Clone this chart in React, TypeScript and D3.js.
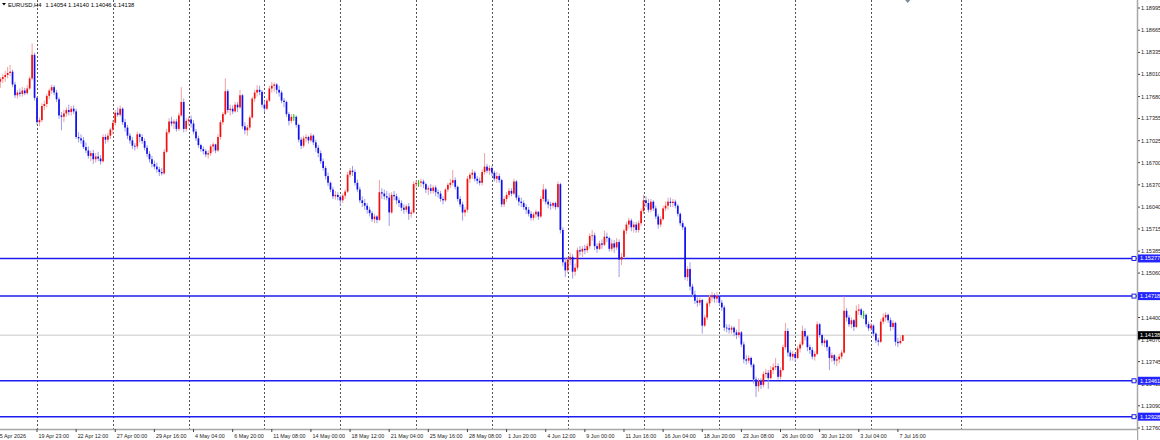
import * as d3 from "d3";

// EURUSD H4, [high, low, close] per bar; each bar opens at the previous close.
// index 0 of the array is bar -15 (15 Apr), bar 0 is 19 Apr 23:00.
const firstBar = -15;
const firstOpen = 1.179;
const candles: [number, number, number][] = [
    [1.1797, 1.1781, 1.1794], [1.1801, 1.1788, 1.1797], [1.1806, 1.179, 1.18], [1.1812, 1.1795, 1.1803],
    [1.1815, 1.1798, 1.1805], [1.1808, 1.1782, 1.1786], [1.179, 1.1766, 1.177], [1.1778, 1.1765, 1.1774],
    [1.178, 1.1768, 1.1772], [1.1782, 1.1768, 1.1777], [1.1781, 1.177, 1.1773], [1.1785, 1.1771, 1.178],
    [1.1798, 1.1778, 1.1795], [1.1847, 1.1792, 1.183], [1.1833, 1.1762, 1.1766],
    // 19 Apr
    [1.1768, 1.1726, 1.173], [1.1737, 1.1724, 1.1733], [1.1758, 1.173, 1.1754], [1.1762, 1.1748, 1.1757],
    [1.1772, 1.1752, 1.1769], [1.178, 1.1764, 1.1777], [1.1786, 1.1772, 1.1782], [1.1785, 1.177, 1.1774],
    [1.1778, 1.176, 1.1764], [1.1767, 1.1735, 1.174], [1.1745, 1.1718, 1.1738], [1.1748, 1.173, 1.1743],
    [1.1752, 1.1738, 1.1748], [1.1756, 1.174, 1.1745], [1.1754, 1.174, 1.175], [1.1755, 1.1742, 1.1746],
    [1.175, 1.1705, 1.1708], [1.1715, 1.17, 1.1706], [1.1712, 1.1698, 1.1703], [1.1708, 1.169, 1.1693],
    [1.17, 1.1684, 1.1688], [1.1694, 1.1676, 1.168], [1.1688, 1.1672, 1.1684], [1.1689, 1.1668, 1.1675],
    [1.1684, 1.167, 1.1679], [1.1686, 1.1672, 1.1676], [1.1681, 1.1667, 1.1672], [1.1712, 1.167, 1.1708],
    [1.1712, 1.1698, 1.1704], [1.1714, 1.17, 1.171], [1.1722, 1.1705, 1.1719],
    // 26 Apr
    [1.1733, 1.1712, 1.1729], [1.1748, 1.1725, 1.1744], [1.1752, 1.1738, 1.1741], [1.1755, 1.1738, 1.175],
    [1.1752, 1.1726, 1.173], [1.1735, 1.1716, 1.1722], [1.1726, 1.1705, 1.171], [1.1714, 1.1698, 1.1703],
    [1.1708, 1.169, 1.1695], [1.1699, 1.1688, 1.1694], [1.1716, 1.169, 1.1712], [1.1714, 1.17, 1.1708],
    [1.1712, 1.1698, 1.1702], [1.1706, 1.1688, 1.1692], [1.1696, 1.1678, 1.1683], [1.1687, 1.167, 1.1675],
    [1.168, 1.1663, 1.1668], [1.1673, 1.166, 1.1664], [1.167, 1.1655, 1.166], [1.1664, 1.165, 1.1656],
    [1.1662, 1.1651, 1.1654], [1.169, 1.1652, 1.1686], [1.172, 1.1684, 1.1715], [1.1736, 1.1712, 1.1731],
    [1.1738, 1.1724, 1.1728], [1.1734, 1.172, 1.1731], [1.1735, 1.1716, 1.172], [1.1744, 1.1717, 1.174],
    [1.1782, 1.1738, 1.176], [1.1765, 1.1715, 1.172], [1.1736, 1.1716, 1.1732],
    // 3 May
    [1.1738, 1.1725, 1.1734], [1.174, 1.1722, 1.1728], [1.1733, 1.1712, 1.1716], [1.172, 1.1702, 1.1706],
    [1.171, 1.1692, 1.1696], [1.1698, 1.1686, 1.169], [1.1694, 1.1682, 1.1687], [1.169, 1.1678, 1.1682],
    [1.1688, 1.1676, 1.1684], [1.1697, 1.168, 1.1694], [1.17, 1.1686, 1.1697], [1.1698, 1.1684, 1.1688],
    [1.1712, 1.1686, 1.1708], [1.1733, 1.1704, 1.173], [1.1745, 1.1726, 1.1742], [1.1795, 1.174, 1.1776],
    [1.1779, 1.1744, 1.1748], [1.1756, 1.174, 1.175], [1.1755, 1.1742, 1.1746], [1.176, 1.1744, 1.1756],
    [1.176, 1.1745, 1.1752], [1.1778, 1.175, 1.177], [1.1772, 1.172, 1.1724], [1.173, 1.1712, 1.1718],
    [1.1726, 1.171, 1.1722], [1.174, 1.1718, 1.1737], [1.1768, 1.1735, 1.1765], [1.1778, 1.176, 1.1774],
    [1.1785, 1.1768, 1.1778], [1.1784, 1.177, 1.1775], [1.1778, 1.1752, 1.1756],
    // 10 May
    [1.1762, 1.1745, 1.175], [1.1765, 1.1748, 1.1762], [1.1784, 1.176, 1.178], [1.179, 1.1774, 1.1784],
    [1.1789, 1.1775, 1.1786], [1.1788, 1.1772, 1.1778], [1.1784, 1.1768, 1.1774], [1.1777, 1.1758, 1.1762],
    [1.1766, 1.1752, 1.176], [1.1762, 1.1738, 1.1742], [1.1745, 1.1725, 1.1732], [1.1742, 1.1728, 1.1738],
    [1.1742, 1.1732, 1.1738], [1.174, 1.1722, 1.1726], [1.1728, 1.17, 1.1704], [1.1708, 1.169, 1.1695],
    [1.171, 1.1692, 1.1706], [1.1712, 1.17, 1.1708], [1.171, 1.1698, 1.1703], [1.1714, 1.17, 1.171],
    [1.1712, 1.1696, 1.17], [1.1704, 1.1686, 1.1692], [1.1696, 1.1678, 1.1684], [1.1688, 1.1668, 1.1672],
    [1.1676, 1.1658, 1.1662], [1.1665, 1.1645, 1.165], [1.1655, 1.1635, 1.164], [1.1642, 1.1626, 1.163],
    [1.1634, 1.1616, 1.162], [1.1628, 1.1615, 1.1622], [1.1626, 1.1614, 1.1619],
    // 17 May
    [1.1622, 1.1606, 1.1614], [1.1624, 1.161, 1.1621], [1.163, 1.1616, 1.1627], [1.1656, 1.1625, 1.1652],
    [1.1662, 1.1648, 1.1658], [1.1665, 1.165, 1.1656], [1.166, 1.1636, 1.164], [1.1645, 1.1626, 1.163],
    [1.1634, 1.161, 1.1614], [1.162, 1.1604, 1.161], [1.1616, 1.16, 1.1606], [1.161, 1.1594, 1.16],
    [1.1604, 1.159, 1.1595], [1.1598, 1.1582, 1.1586], [1.1594, 1.158, 1.159], [1.1592, 1.158, 1.1585],
    [1.1644, 1.1583, 1.1626], [1.1632, 1.1616, 1.1624], [1.163, 1.1615, 1.162], [1.1628, 1.1614, 1.1618],
    [1.1625, 1.1576, 1.1596], [1.1626, 1.1594, 1.1622], [1.1628, 1.1614, 1.162], [1.1624, 1.1608, 1.1614],
    [1.1618, 1.1604, 1.161], [1.1614, 1.1598, 1.1603], [1.1608, 1.1594, 1.16], [1.1608, 1.1596, 1.1605],
    [1.161, 1.1585, 1.1594], [1.16, 1.1588, 1.1596], [1.1642, 1.1594, 1.1638],
    // 24 May
    [1.1644, 1.1632, 1.164], [1.1644, 1.1634, 1.164], [1.1646, 1.1634, 1.1642], [1.1645, 1.1632, 1.1638],
    [1.164, 1.1625, 1.163], [1.1636, 1.1622, 1.1632], [1.1638, 1.1624, 1.1628], [1.1636, 1.1624, 1.1633],
    [1.1636, 1.162, 1.1626], [1.163, 1.1618, 1.1624], [1.1628, 1.1612, 1.1616], [1.162, 1.1608, 1.1614],
    [1.1632, 1.1612, 1.163], [1.164, 1.1626, 1.1637], [1.1646, 1.1632, 1.164], [1.1659, 1.1636, 1.1644],
    [1.1648, 1.163, 1.1634], [1.1636, 1.1612, 1.1616], [1.162, 1.1604, 1.1608], [1.1612, 1.1584, 1.1596],
    [1.1604, 1.159, 1.16], [1.165, 1.1596, 1.1646], [1.1655, 1.164, 1.1652], [1.166, 1.1646, 1.1655],
    [1.1658, 1.1642, 1.1646], [1.165, 1.1638, 1.1643], [1.1648, 1.1636, 1.164], [1.166, 1.1636, 1.1656],
    [1.1684, 1.1652, 1.1664], [1.1668, 1.1654, 1.1658], [1.1666, 1.1652, 1.1662],
    // 31 May
    [1.1665, 1.165, 1.1655], [1.1658, 1.1642, 1.1646], [1.1656, 1.164, 1.165], [1.1654, 1.164, 1.1644],
    [1.1646, 1.1604, 1.1608], [1.162, 1.1604, 1.1616], [1.1626, 1.1612, 1.1622], [1.1632, 1.1618, 1.1628],
    [1.1632, 1.162, 1.1624], [1.1646, 1.1622, 1.1642], [1.1644, 1.1614, 1.1618], [1.1622, 1.1606, 1.1612],
    [1.1618, 1.1604, 1.161], [1.1614, 1.16, 1.1604], [1.1608, 1.1594, 1.16], [1.1604, 1.159, 1.1594],
    [1.1598, 1.1584, 1.1588], [1.1596, 1.1584, 1.1593], [1.16, 1.1588, 1.1597], [1.1598, 1.1585, 1.159],
    [1.162, 1.1588, 1.1616], [1.1638, 1.1612, 1.163], [1.1632, 1.1608, 1.1612], [1.1616, 1.1602, 1.1608],
    [1.1612, 1.16, 1.1606], [1.1612, 1.1602, 1.161], [1.1612, 1.16, 1.1604], [1.1642, 1.1602, 1.1638],
    [1.164, 1.1565, 1.157], [1.1574, 1.1516, 1.1522], [1.1528, 1.15, 1.151],
    // 7 Jun
    [1.153, 1.1506, 1.1526], [1.1536, 1.1518, 1.153], [1.1534, 1.1498, 1.1508], [1.152, 1.1502, 1.1514],
    [1.1544, 1.151, 1.154], [1.1546, 1.1532, 1.1538], [1.1546, 1.153, 1.1542], [1.1548, 1.1534, 1.154],
    [1.155, 1.1536, 1.1546], [1.1565, 1.1542, 1.1561], [1.157, 1.1554, 1.1562], [1.1566, 1.154, 1.1546],
    [1.155, 1.1536, 1.1542], [1.1554, 1.154, 1.155], [1.1556, 1.1542, 1.1548], [1.1569, 1.1546, 1.156],
    [1.1566, 1.1552, 1.1558], [1.156, 1.1538, 1.1542], [1.1556, 1.1538, 1.155], [1.1555, 1.1536, 1.1544],
    [1.1558, 1.154, 1.1552], [1.1556, 1.15, 1.1526], [1.1536, 1.1518, 1.153], [1.1572, 1.1528, 1.1569],
    [1.1582, 1.1564, 1.1578], [1.1588, 1.1572, 1.1584], [1.1587, 1.1568, 1.1574], [1.1582, 1.1566, 1.1578],
    [1.1582, 1.1566, 1.157], [1.1584, 1.1566, 1.158], [1.1602, 1.1576, 1.1598],
    // 14 Jun
    [1.1622, 1.1594, 1.1614], [1.162, 1.1604, 1.161], [1.1616, 1.1596, 1.16], [1.1616, 1.1596, 1.1612],
    [1.1614, 1.1598, 1.1602], [1.1606, 1.1586, 1.159], [1.1594, 1.1572, 1.1578], [1.159, 1.1574, 1.1586],
    [1.1606, 1.1584, 1.1602], [1.1612, 1.1598, 1.1606], [1.1618, 1.16, 1.1612], [1.1618, 1.1604, 1.161],
    [1.1616, 1.1604, 1.1612], [1.1615, 1.1602, 1.1606], [1.1608, 1.159, 1.1594], [1.1596, 1.1576, 1.158],
    [1.1584, 1.157, 1.1574], [1.1576, 1.1496, 1.15], [1.1516, 1.1494, 1.1512], [1.1522, 1.148, 1.1486],
    [1.149, 1.147, 1.1474], [1.148, 1.146, 1.1465], [1.147, 1.1456, 1.1462], [1.147, 1.1458, 1.1466],
    [1.1468, 1.1416, 1.1428], [1.1444, 1.1426, 1.144], [1.1464, 1.1436, 1.1461], [1.1474, 1.1456, 1.147],
    [1.1478, 1.1464, 1.1473], [1.1476, 1.1462, 1.1468], [1.1478, 1.1462, 1.1472],
    // 21 Jun
    [1.1474, 1.1458, 1.1462], [1.1466, 1.145, 1.1455], [1.1458, 1.142, 1.1425], [1.143, 1.1418, 1.1424],
    [1.143, 1.1416, 1.1422], [1.1428, 1.1416, 1.1425], [1.1427, 1.1412, 1.1418], [1.1422, 1.1408, 1.1414],
    [1.1438, 1.141, 1.1418], [1.142, 1.1396, 1.14], [1.1404, 1.1372, 1.1378], [1.1384, 1.137, 1.1376],
    [1.1384, 1.1372, 1.138], [1.1382, 1.1366, 1.137], [1.1372, 1.1342, 1.1348], [1.1352, 1.1322, 1.1338],
    [1.135, 1.133, 1.1346], [1.135, 1.1334, 1.134], [1.136, 1.1336, 1.1356], [1.1364, 1.135, 1.1358],
    [1.1362, 1.1334, 1.135], [1.1368, 1.1348, 1.1362], [1.1372, 1.1356, 1.1366], [1.138, 1.1362, 1.1368],
    [1.1372, 1.1348, 1.1352], [1.1366, 1.1348, 1.1362], [1.14, 1.136, 1.1396], [1.1432, 1.1392, 1.142],
    [1.1424, 1.1382, 1.1388], [1.1392, 1.1376, 1.1382], [1.139, 1.1376, 1.1386],
    // 28 Jun
    [1.1388, 1.1374, 1.138], [1.1398, 1.1378, 1.1394], [1.1404, 1.1388, 1.14], [1.1428, 1.1398, 1.142],
    [1.1424, 1.1406, 1.1412], [1.1414, 1.139, 1.1396], [1.14, 1.1386, 1.1392], [1.1396, 1.1378, 1.1382],
    [1.139, 1.1376, 1.1386], [1.1434, 1.1384, 1.143], [1.1432, 1.141, 1.1414], [1.1416, 1.1398, 1.1402],
    [1.141, 1.1396, 1.1406], [1.1408, 1.139, 1.1396], [1.1398, 1.1362, 1.138], [1.1388, 1.1374, 1.1384],
    [1.1386, 1.137, 1.1376], [1.1382, 1.1368, 1.1378], [1.1386, 1.1372, 1.1382], [1.1392, 1.1378, 1.1388],
    [1.1471, 1.1386, 1.145], [1.1454, 1.1434, 1.144], [1.1444, 1.1426, 1.143], [1.144, 1.1424, 1.1436],
    [1.1438, 1.142, 1.1426], [1.1458, 1.1424, 1.145], [1.146, 1.1444, 1.1452], [1.1454, 1.144, 1.1444],
    [1.145, 1.1438, 1.1444], [1.1446, 1.1426, 1.143], [1.1434, 1.142, 1.1424],
    // 5 Jul
    [1.1432, 1.142, 1.1428], [1.143, 1.1412, 1.1416], [1.1418, 1.1402, 1.1406], [1.141, 1.1398, 1.1404],
    [1.1438, 1.1402, 1.1434], [1.1446, 1.143, 1.144], [1.1448, 1.1434, 1.1444], [1.1446, 1.1432, 1.1436],
    [1.144, 1.142, 1.1426], [1.1436, 1.1422, 1.1432], [1.1434, 1.1398, 1.1404], [1.141, 1.1396, 1.1402],
    [1.1412, 1.14, 1.14054], [1.1414, 1.14046, 1.14138],
];

const symbol = "EURUSD,H4";
const lastQuote = ["1.14054", "1.14140", "1.14046", "1.14138"];
const firstDateLabel = "15 Apr 2026";
const timeLabels = [
    "19 Apr 23:00", "22 Apr 12:00", "27 Apr 00:00", "29 Apr 16:00", "4 May 04:00", "6 May 20:00",
    "11 May 08:00", "14 May 00:00", "18 May 12:00", "21 May 04:00", "25 May 16:00", "28 May 08:00",
    "1 Jun 20:00", "4 Jun 12:00", "9 Jun 00:00", "11 Jun 16:00", "16 Jun 04:00", "18 Jun 20:00",
    "23 Jun 08:00", "26 Jun 00:00", "30 Jun 12:00", "3 Jul 04:00", "7 Jul 16:00",
];
const barsPerLabel = 16;
const barsPerWeek = 31;
const weekSeparators = 12;
const futureGridBar = 378;
const shiftMarkerBar = 356;

const priceTicks = [
    1.18995, 1.18665, 1.18335, 1.1801, 1.1768, 1.17355, 1.17025, 1.167, 1.1637, 1.1604,
    1.15715, 1.15385, 1.1506, 1.1473, 1.144, 1.1407, 1.13745, 1.13415, 1.1309, 1.1276,
];
const levels = [1.15277, 1.14718, 1.13461, 1.12928];
const bid = 1.14138;

const W = 1160;
const H = 440;
const axisX = 1137;
const axisY = 429;
const font = "'Liberation Sans', Arial, sans-serif";

const upBody = "#f01010";
const upWick = "#f3a0a0";
const downBody = "#1010ee";
const downWick = "#9c9cec";
const dojiColor = "#10c010";
const levelColor = "#1c1cf0";

export default function App() {
    const x = d3.scaleLinear().domain([0, 341]).range([37, 871]);
    const y = d3.scaleLinear().domain([1.1276, 1.18995]).range([428, 8]);

    let prev = firstOpen;
    const bars = candles.map(([h, l, c], k) => {
        const o = prev;
        prev = c;
        return { i: firstBar + k, o, c, h: Math.max(h, o, c), l: Math.min(l, o, c) };
    });

    const grid = d3.range(weekSeparators).map((k) => k * barsPerWeek).concat([futureGridBar]);
    const sx = x(shiftMarkerBar);

    return (
        <div style={{ position: "absolute", left: 0, top: 0 }}>
            <svg width={W} height={H} style={{ display: "block", background: "#fff" }}>
                <rect width={W} height={H} fill="#fff" />
                {grid.map((b) => (
                    <line key={b} x1={Math.round(x(b)) + 0.5} x2={Math.round(x(b)) + 0.5} y1={0} y2={axisY}
                          stroke="#555" strokeWidth={1} strokeDasharray="2,2" />
                ))}
                <line x1={0} x2={axisX} y1={y(bid)} y2={y(bid)} stroke="#c8c8c8" strokeWidth={1} />
                {levels.map((p) => (
                    <g key={p}>
                        <line x1={0} x2={axisX} y1={y(p)} y2={y(p)} stroke={levelColor} strokeWidth={1.5} />
                        <rect x={axisX - 5} y={y(p) - 2} width={4} height={4} fill="#fff" stroke={levelColor} strokeWidth={1} />
                    </g>
                ))}
                {bars.map((b) => {
                    const cx = x(b.i);
                    const doji = Math.abs(b.c - b.o) < 0.00004;
                    const up = b.c > b.o;
                    const body = doji ? dojiColor : up ? upBody : downBody;
                    const wick = doji ? dojiColor : up ? upWick : downWick;
                    const top = y(Math.max(b.o, b.c));
                    const bot = y(Math.min(b.o, b.c));
                    return (
                        <g key={b.i}>
                            <line x1={cx} x2={cx} y1={y(b.h)} y2={y(b.l)} stroke={wick} strokeWidth={1} />
                            <rect x={cx - 0.85} y={top} width={1.7} height={Math.max(bot - top, 0.8)} fill={body} />
                        </g>
                    );
                })}
                <polygon points={`${sx - 2.5},0 ${sx + 2.5},0 ${sx},3`} fill="#7a8899" />

                {/* price axis */}
                <rect x={axisX} y={0} width={W - axisX} height={H} fill="#fff" />
                <line x1={axisX + 0.5} x2={axisX + 0.5} y1={0} y2={H} stroke="#a8a8a8" strokeWidth={1.5} />
                {priceTicks.map((p) => (
                    <g key={p}>
                        <line x1={axisX + 1} x2={axisX + 3} y1={y(p)} y2={y(p)} stroke="#444" />
                        <text x={axisX + 4} y={y(p) + 2} fontSize={5.6} fontFamily={font} fill="#222">
                            {p.toFixed(5)}
                        </text>
                    </g>
                ))}
                {levels.map((p) => (
                    <g key={"b" + p}>
                        <rect x={axisX + 1} y={y(p) - 4} width={W - axisX} height={8} fill="#2424ff" />
                        <text x={axisX + 3} y={y(p) + 2} fontSize={5.6} fontFamily={font} fill="#fff">
                            {p.toFixed(5)}
                        </text>
                    </g>
                ))}
                <rect x={axisX + 1} y={y(bid) - 4} width={W - axisX} height={8} fill="#000" />
                <text x={axisX + 3} y={y(bid) + 2} fontSize={5.6} fontFamily={font} fill="#fff">
                    {bid.toFixed(5)}
                </text>

                {/* time axis */}
                <rect x={0} y={axisY} width={axisX} height={H - axisY} fill="#fff" />
                <line x1={0} x2={axisX} y1={axisY + 0.5} y2={axisY + 0.5} stroke="#a8a8a8" strokeWidth={1.5} />
                <text x={x(firstBar) - 3.5} y={438} fontSize={5.4} fontFamily={font} fill="#222">
                    {firstDateLabel}
                </text>
                {timeLabels.map((t, k) => {
                    const tx = x(k * barsPerLabel);
                    return (
                        <g key={t}>
                            <line x1={tx} x2={tx} y1={axisY} y2={axisY + 3} stroke="#444" />
                            <text x={tx + 1.5} y={438} fontSize={5.4} fontFamily={font} fill="#222">
                                {t}
                            </text>
                        </g>
                    );
                })}

                {/* header */}
                <polygon points="2,3 6,3 4,5.5" fill="#000" />
                <text x={8} y={6.5} fontSize={5.8} fontFamily={font} fill="#000">
                    {symbol}
                    <tspan dx={4}>{lastQuote.join(" ")}</tspan>
                </text>
            </svg>
        </div>
    );
}
